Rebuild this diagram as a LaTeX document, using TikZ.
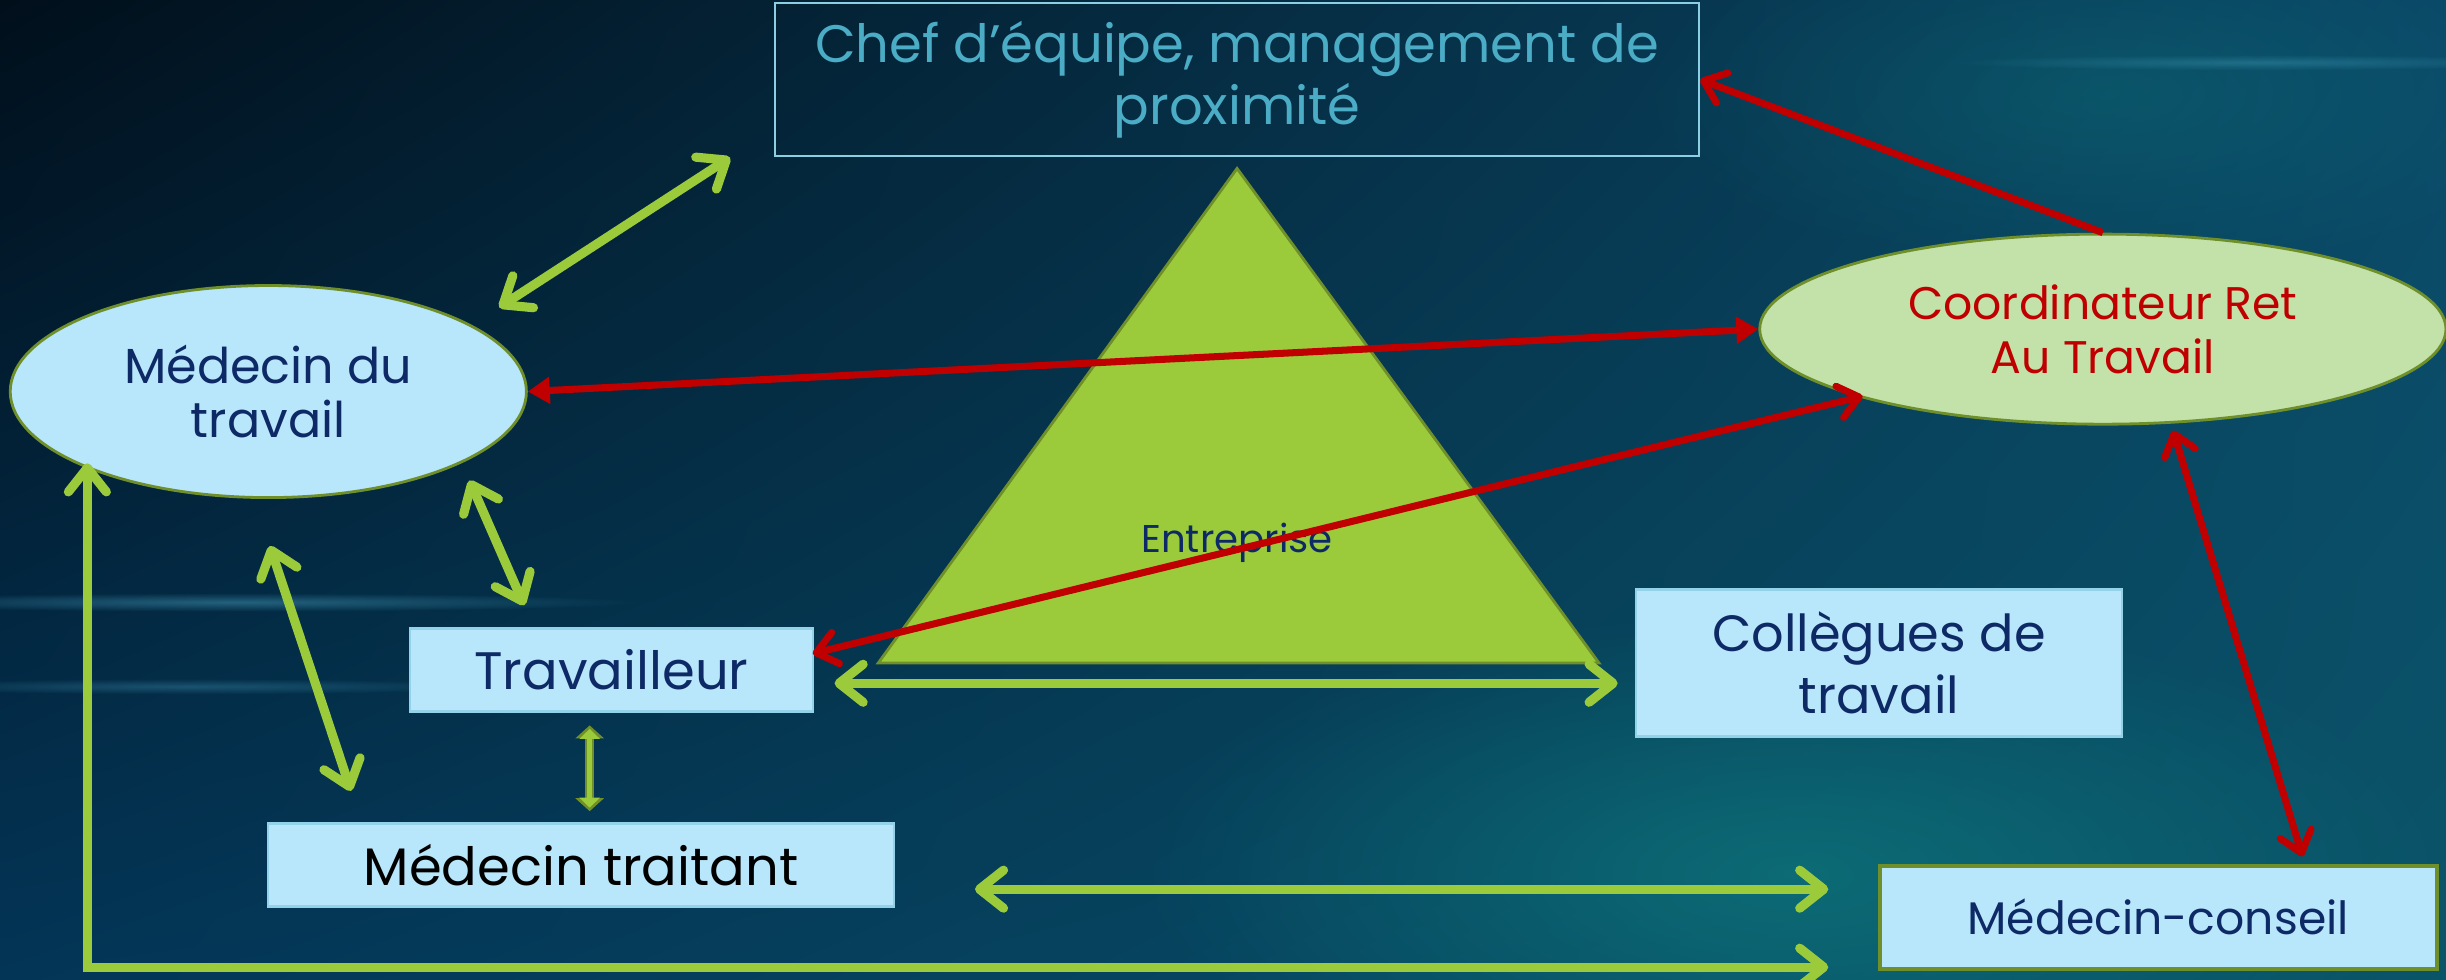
\documentclass[tikz,border=0pt]{standalone}
\usepackage{fontspec}
\setmainfont{Poppins}
\usetikzlibrary{arrows.meta,shapes.geometric,fadings,shadings}
\tikzfading[name=softglow, inner color=transparent!0, outer color=transparent!100]
\definecolor{navy}{HTML}{0E2A66}
\definecolor{lblue}{HTML}{B8E6FB}
\definecolor{lboxborder}{HTML}{94D2EA}
\definecolor{lgreen}{HTML}{C2E2A9}
\definecolor{olivec}{HTML}{6E8F2A}
\definecolor{ygreen}{HTML}{9BCB3B}
\definecolor{redc}{HTML}{C00000}
\definecolor{chefc}{HTML}{4BACC6}
\definecolor{chefborder}{HTML}{8CCFE4}
\definecolor{bgTL}{HTML}{010F1B}
\definecolor{bgTR}{HTML}{0A4868}
\definecolor{bgBL}{HTML}{033557}
\definecolor{bgBR}{HTML}{0A5468}
\definecolor{glow}{HTML}{0E7A7E}
\definecolor{streak}{HTML}{5FC8E8}
\begin{document}
\begin{tikzpicture}[x=0.0156cm,y=-0.0156cm,
  oval/.style={ellipse, draw=olivec, line width=0.8pt, inner sep=0pt, align=center},
  lbox/.style={rectangle, fill=lblue, draw=lboxborder, line width=0.6pt, inner sep=0pt, align=center, text=navy},
  garrow/.style={draw=ygreen, line width=2.6pt, line cap=round, {Straight Barb[length=0.24cm, width=0.38cm, round]}-{Straight Barb[length=0.24cm, width=0.38cm, round]}},
  rarrow/.style={draw=redc, line width=2pt, {Straight Barb[length=0.2cm, width=0.32cm, round]}-{Straight Barb[length=0.2cm, width=0.32cm, round]}},
  rfarrow/.style={draw=redc, line width=2pt, {Triangle[length=0.22cm, width=0.26cm]}-{Triangle[length=0.22cm, width=0.26cm]}}
]
% background
\useasboundingbox (0,0) rectangle (1568,628);
\shade[upper left=bgTL, upper right=bgTR, lower left=bgBL, lower right=bgBR] (0,0) rectangle (1568,628);
\fill[glow, fill opacity=0.7, path fading=softglow] (1150,560) ellipse (420 and 170);
\fill[glow, fill opacity=0.35, path fading=softglow] (1350,60) ellipse (300 and 120);
\fill[streak, fill opacity=0.35, path fading=softglow] (150,386) ellipse (260 and 6);
\fill[streak, fill opacity=0.25, path fading=softglow] (120,440) ellipse (200 and 5);
\fill[streak, fill opacity=0.25, path fading=softglow] (1450,40) ellipse (200 and 5);

% triangle
\coordinate (tA) at (793,108);
\coordinate (tB) at (563,425);
\coordinate (tC) at (1025,425);
\filldraw[fill=ygreen, draw=olivec, line width=0.8pt] (tA) -- (tB) -- (tC) -- cycle;
\node[text=navy, font=\fontsize{11}{13}\selectfont] (ent) at (793,348) {Entreprise};

% nodes
\node[rectangle, draw=chefborder, line width=0.7pt, minimum width=9.235cm, minimum height=1.53cm, inner sep=0pt, align=center, text=chefc, font=\fontsize{15}{17.8}\selectfont] (chef) at (793,51) {Chef d’équipe, management de\\proximité};
\node[oval, fill=lblue, text=navy, minimum width=5.16cm, minimum height=2.12cm, font=\fontsize{14}{15.5}\selectfont] (mdt) at (172,251) {Médecin du\\travail};
\node[oval, fill=lgreen, text=redc, minimum width=6.86cm, minimum height=1.9cm, font=\fontsize{13}{15.5}\selectfont] (coord) at (1348,211) {Coordinateur Ret\\Au Travail};
\node[lbox, minimum width=4.02cm, minimum height=0.83cm, font=\fontsize{15}{17}\selectfont] (trav) at (392,429.5) {Travailleur};
\node[lbox, minimum width=4.85cm, minimum height=1.47cm, font=\fontsize{14.5}{17.5}\selectfont] (coll) at (1204.5,425) {Collègues de\\travail};
\node[lbox, text=black, minimum width=6.26cm, minimum height=0.83cm, font=\fontsize{15}{17}\selectfont] (mtr) at (372.5,554.5) {Médecin traitant};
\node[lbox, draw=olivec, line width=1.1pt, minimum width=5.57cm, minimum height=1.03cm, font=\fontsize{13}{15}\selectfont] (mc) at (1383.5,588) {Médecin-conseil};

% connector end points
\coordinate (g1a) at (320,197);
\coordinate (g1b) at (468,101);
\coordinate (g2a) at (301,308);
\coordinate (g2b) at (336,388);
\coordinate (g3a) at (173,350);
\coordinate (g3b) at (225,507);
\coordinate (g4a) at (378,465);
\coordinate (g4b) at (378,520);
\coordinate (g5a) at (535,438);
\coordinate (g5b) at (1037,438);
\coordinate (g6a) at (625,570);
\coordinate (g6b) at (1172,570);
\coordinate (g7a) at (56,297);
\coordinate (g7c) at (56,620);
\coordinate (g7b) at (1172,620);
\coordinate (r9a) at (521,419);
\coordinate (r9b) at (1194,254);
\coordinate (r11a) at (1393,276);
\coordinate (r11b) at (1476,549);

% green connectors
\draw[garrow] (g1a) -- (g1b);
\draw[garrow] (g2a) -- (g2b);
\draw[garrow] (g3a) -- (g3b);
\draw[draw=olivec, line width=2.6pt, {Triangle[length=0.13cm, width=0.28cm]}-{Triangle[length=0.13cm, width=0.28cm]}] (g4a) -- (g4b);
\draw[draw=ygreen, line width=1.4pt, shorten <=1pt, shorten >=1pt, {Triangle[length=0.1cm, width=0.2cm]}-{Triangle[length=0.1cm, width=0.2cm]}] (g4a) -- (g4b);
\draw[garrow] (g5a) -- (g5b);
\draw[garrow] (g6a) -- (g6b);
\draw[garrow, line cap=butt] (g7a) -- (g7c) -- (g7b);

% red connectors
\draw[rfarrow] (mdt.east) -- (coord.west);
\draw[rarrow] (r9a) -- (r9b);
\draw[draw=redc, line width=2pt, -{Straight Barb[length=0.2cm, width=0.32cm, round]}] (coord.north) -- (chef.east);
\draw[rarrow] (r11a) -- (r11b);
\end{tikzpicture}
\end{document}
